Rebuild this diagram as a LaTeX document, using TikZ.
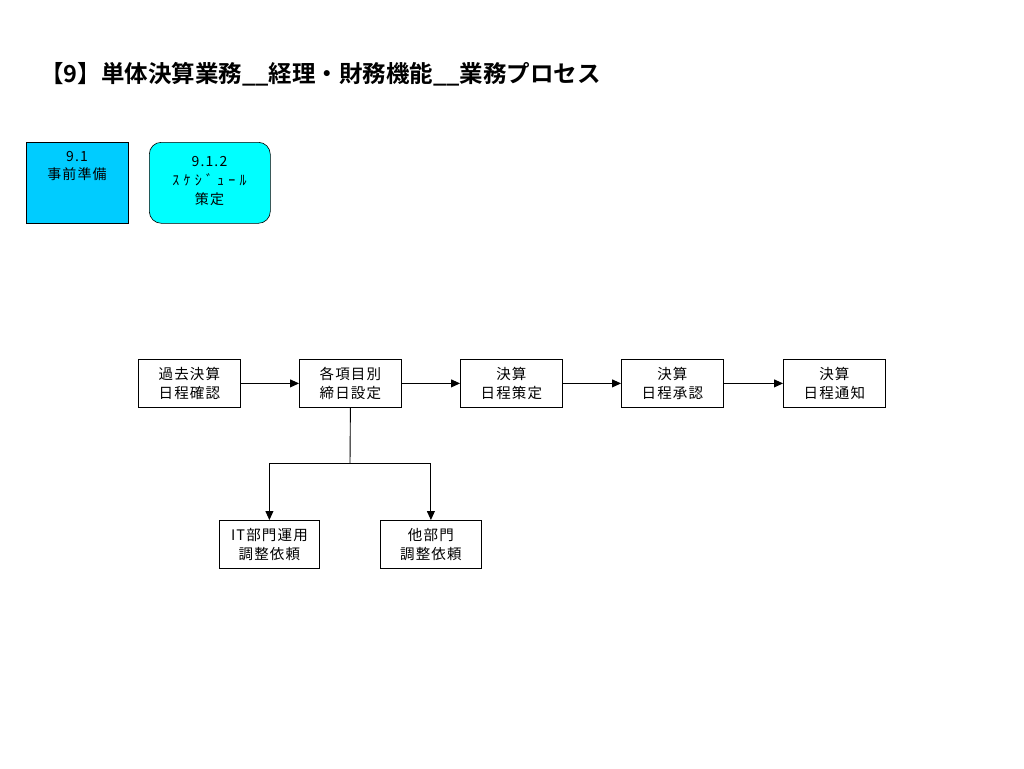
\documentclass[tikz,border=0pt]{standalone}
\usepackage{fontspec}
\setmainfont{Noto Sans CJK JP}[LetterSpace=8]
\newfontfamily\jpbold{Noto Sans CJK JP Bold}
\newfontfamily\jpwide{Noto Sans CJK JP}[LetterSpace=30]
\usetikzlibrary{arrows.meta}
\definecolor{boxblue}{RGB}{0,204,255}
\definecolor{boxaqua}{RGB}{0,255,255}
\begin{document}
\begin{tikzpicture}[x=1pt,y=-1pt,
  proc/.style={draw=black,line width=0.8pt,minimum width=102pt,minimum height=48pt,inner sep=0pt,align=center,font=\fontsize{14.5}{19}\selectfont,anchor=north west},
  arr/.style={line width=0.9pt,-{Triangle[length=9pt,width=8pt]}},
  line/.style={line width=0.9pt}]
\useasboundingbox (0,0) rectangle (1024,768);
\node[anchor=west,inner sep=0pt,font=\jpbold\fontsize{23.5}{26}\selectfont] (title) at (40,74) {【9】単体決算業務\_\_経理・財務機能\_\_業務プロセス};
\node[draw=black,fill=boxblue,line width=0.6pt,minimum width=102pt,minimum height=81pt,anchor=north west,inner sep=0pt] (b91) at (26,142) {};
\node[anchor=north,align=center,font=\fontsize{14}{18}\selectfont] (t91) at (77,148) {9.1\\事前準備};
\node[draw=black,fill=boxaqua,line width=0.6pt,rounded corners=12pt,minimum width=121pt,minimum height=81pt,anchor=north west,inner sep=0pt] (b912) at (149,142) {};
\node[anchor=north,align=center,font=\fontsize{14}{19}\selectfont] (t912) at (209.5,153) {9.1.2\\{\jpwide ｽｹｼﾞｭｰﾙ}\\策定};
\node[proc] (p1) at (138,359) {過去決算\\日程確認};
\node[proc] (p2) at (299,359) {各項目別\\締日設定};
\node[proc] (p3) at (460,359) {決算\\日程策定};
\node[proc] (p4) at (621,359) {決算\\日程承認};
\node[proc] (p5) at (783,359) {決算\\日程通知};
\node[proc,minimum width=100pt] (p6) at (219,520) {IT部門運用\\調整依頼};
\node[proc,minimum width=101pt] (p7) at (380,520) {他部門\\調整依頼};
\draw[arr] (p1) -- (p2);
\draw[arr] (p2) -- (p3);
\draw[arr] (p3) -- (p4);
\draw[arr] (p4) -- (p5);
\coordinate (j) at (350,463);
\draw[line] (p2.south) -- (j);
\draw[arr] (j) -| (p6.north);
\draw[arr] (j) -| (p7.north);
\end{tikzpicture}
\end{document}
